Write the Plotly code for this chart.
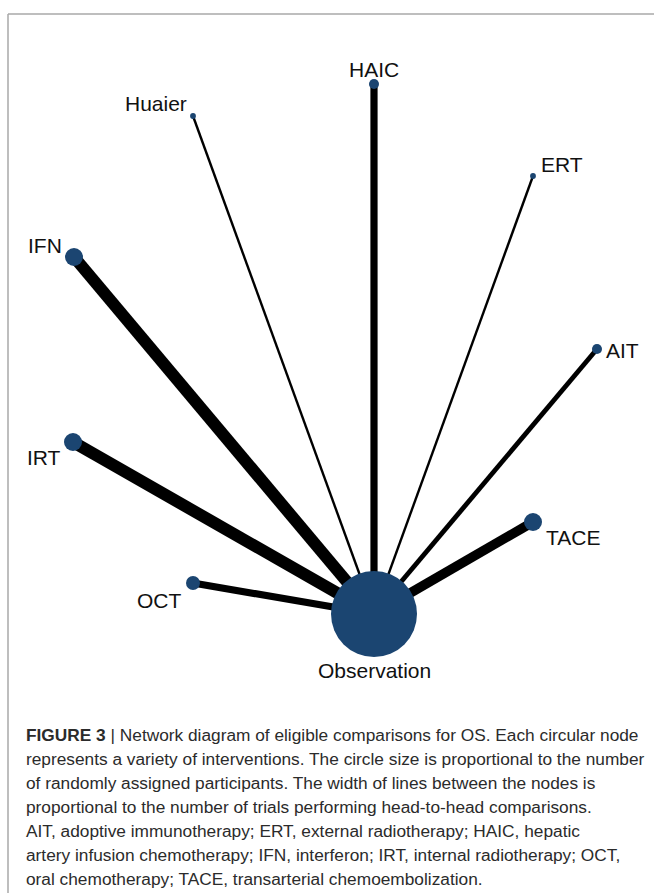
import numpy as np
import plotly.graph_objects as go

# Network layout (arbitrary layout units, Observation at the origin)
nodes = ["Observation", "HAIC", "Huaier", "ERT", "IFN", "AIT", "IRT", "TACE", "OCT"]
node_x = [0.00, 0.00, -1.81, 1.59, -3.00, 2.23, -3.01, 1.59, -1.81]
node_y = [0.00, 5.30, 4.98, 4.38, 3.57, 2.65, 1.72, 0.92, 0.31]
# Randomly assigned participants per intervention
participants = [1094, 15, 5, 5, 48, 15, 48, 48, 29]

# Head-to-head comparisons (all against Observation) and number of trials
edge_from = ["Observation"] * 8
edge_to = ["HAIC", "Huaier", "ERT", "IFN", "AIT", "IRT", "TACE", "OCT"]
edge_trials = [3, 1, 1, 5, 2, 5, 4, 3]

# Caption text
caption_lines = [
    "<b>FIGURE 3</b> | Network diagram of eligible comparisons for OS. Each circular node",
    "represents a variety of interventions. The circle size is proportional to the number",
    "of randomly assigned participants. The width of lines between the nodes is",
    "proportional to the number of trials performing head-to-head comparisons.",
    "AIT, adoptive immunotherapy; ERT, external radiotherapy; HAIC, hepatic",
    "artery infusion chemotherapy; IFN, interferon; IRT, internal radiotherapy; OCT,",
    "oral chemotherapy; TACE, transarterial chemoembolization.",
]

W, H = 654, 893
NODE_COLOR = "#1b4571"
LINE_WIDTH_PER_TRIAL = 2.4
SIZE_SCALE = 2.6

pos = {n: (x, y) for n, x, y in zip(nodes, node_x, node_y)}

fig = go.Figure()

for a, b, t in zip(edge_from, edge_to, edge_trials):
    fig.add_trace(go.Scatter(
        x=[pos[a][0], pos[b][0]], y=[pos[a][1], pos[b][1]],
        mode="lines", line=dict(color="black", width=LINE_WIDTH_PER_TRIAL * t),
        hoverinfo="skip", showlegend=False,
    ))

fig.add_trace(go.Scatter(
    x=node_x, y=node_y, mode="markers",
    marker=dict(size=[SIZE_SCALE * np.sqrt(p) for p in participants],
                color=NODE_COLOR, line=dict(width=0), opacity=1),
    text=nodes, hoverinfo="text", showlegend=False,
))

# Node labels: anchor side and pixel offset from the node centre
label_place = {
    "Observation": ("center", "middle", 0, -56),
    "HAIC": ("center", "middle", 0, 15),
    "Huaier": ("right", "middle", -4, 13),
    "ERT": ("left", "middle", 6, 12),
    "IFN": ("right", "middle", -10, 12),
    "AIT": ("left", "middle", 7, -1),
    "IRT": ("right", "middle", -10, -15),
    "TACE": ("left", "middle", 11, -15),
    "OCT": ("right", "middle", -9, -17),
}
for n in nodes:
    xa, ya, dx, dy = label_place[n]
    fig.add_annotation(
        x=pos[n][0], y=pos[n][1], text=n, showarrow=False,
        xanchor=xa, yanchor=ya, xshift=dx, yshift=dy,
        font=dict(family="Liberation Sans, Arial, sans-serif", size=21, color="#111111"),
    )

# Caption lines
cap_top = 735
cap_step = 24.0
for i, line in enumerate(caption_lines):
    fig.add_annotation(
        xref="paper", yref="paper", x=24 / W, y=1 - (cap_top + i * cap_step) / H,
        xanchor="left", yanchor="middle", text=line, showarrow=False,
        font=dict(family="Liberation Sans, Arial, sans-serif",
                  size=17.3, color="#2b2b2b"),
    )

# Frame lines (top and left)
fig.add_shape(type="line", xref="paper", yref="paper",
              x0=8 / W, x1=1, y0=1 - 14 / H, y1=1 - 14 / H,
              line=dict(color="#a8a8a8", width=1.5))
fig.add_shape(type="line", xref="paper", yref="paper",
              x0=8 / W, x1=8 / W, y0=0, y1=1 - 14 / H,
              line=dict(color="#a8a8a8", width=1.5))

# Axis ranges: 100 px per layout unit, Observation centred at (374, 614) px
fig.update_xaxes(range=[-3.74, (W - 374) / 100], visible=False, domain=[0, 1])
fig.update_yaxes(range=[-(H - 614) / 100, 6.14], visible=False, domain=[0, 1])

fig.update_layout(
    width=W, height=H, margin=dict(l=0, r=0, t=0, b=0),
    paper_bgcolor="white", plot_bgcolor="white",
)

fig.write_html("out.html")
